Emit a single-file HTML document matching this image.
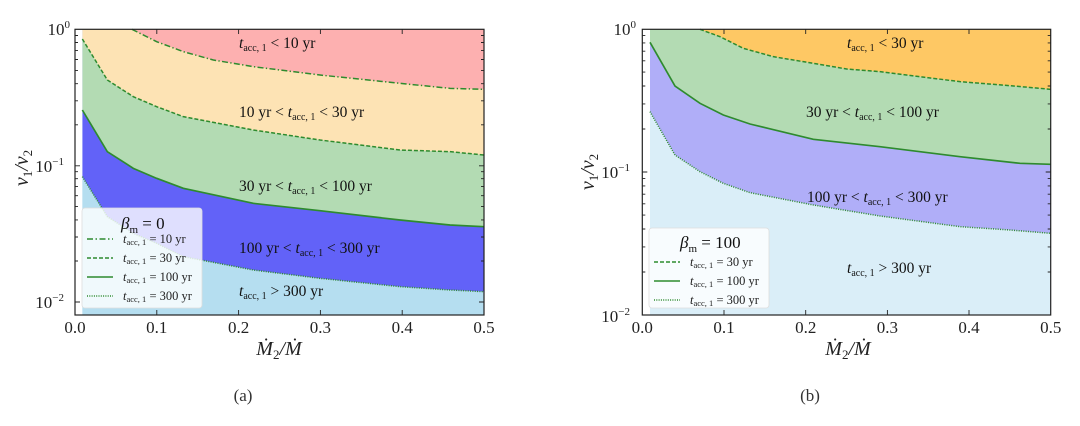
<!DOCTYPE html>
<html><head><meta charset="utf-8"><style>
html,body{margin:0;padding:0;background:#fff;}
svg{display:block;}
text{font-family:"Liberation Serif",serif;}
</style></head><body>
<svg width="1080" height="426" viewBox="0 0 1080 426" xmlns="http://www.w3.org/2000/svg" font-family="Liberation Serif, serif">
<g transform="scale(0.33333)">
 <rect x="225" y="88" width="1227" height="857" fill="#b5def0"/>
 <polygon fill="#6262f8" points="247,530 322,650 400,700 470,730 550,770 760,810 960,835 1200,860 1350,870 1452,875 1452,88 247,88"/>
 <polygon fill="#b3dbb3" points="247,330 322,455 400,505 470,535 550,565 760,610 960,632 1200,660 1350,675 1452,680 1452,88 247,88"/>
 <polygon fill="#fde3b4" points="247,117 322,240 400,290 470,320 550,350 760,390 960,420 1200,450 1350,455 1452,465 1452,88 247,88"/>
 <polygon fill="#fdb0b0" points="396,88 470,125 550,155 640,180 760,200 960,225 1200,250 1350,265 1452,268 1452,88"/>
 <rect x="225" y="88" width="22" height="857" fill="#fff"/>
 <g fill="none" stroke="#2e8b2e" stroke-width="4.5">
  <polyline points="396,88 470,125 550,155 640,180 760,200 960,225 1200,250 1350,265 1452,268" stroke-dasharray="18,7,4,7"/>
  <polyline points="247,117 322,240 400,290 470,320 550,350 760,390 960,420 1200,450 1350,455 1452,465" stroke-dasharray="12,6"/>
  <polyline points="247,330 322,455 400,505 470,535 550,565 760,610 960,632 1200,660 1350,675 1452,680" stroke-width="5"/>
  <polyline points="247,530 322,650 400,700 470,730 550,770 760,810 960,835 1200,860 1350,870 1452,875" stroke-dasharray="3,4"/>
 </g>
</g>
<g transform="translate(560,0) scale(0.33333)">
 <rect x="247" y="88" width="1225" height="857" fill="#daeef8"/>
 <polygon fill="#b0aef8" points="270,335 345,465 420,515 490,550 570,578 760,615 960,648 1200,680 1350,690 1472,700 1472,88 270,88"/>
 <polygon fill="#b3dbb3" points="270,127 345,258 420,310 490,345 570,372 760,418 960,440 1200,470 1380,490 1472,493 1472,88 270,88"/>
 <polygon fill="#fec864" points="420,88 480,110 550,145 640,170 760,190 860,207 960,215 1200,245 1350,257 1472,268 1472,88"/>
 <rect x="247" y="88" width="23" height="857" fill="#fff"/>
 <g fill="none" stroke="#2e8b2e" stroke-width="4.5">
  <polyline points="420,88 480,110 550,145 640,170 760,190 860,207 960,215 1200,245 1350,257 1472,268" stroke-dasharray="12,6"/>
  <polyline points="270,127 345,258 420,310 490,345 570,372 760,418 960,440 1200,470 1380,490 1472,493" stroke-width="5"/>
  <polyline points="270,335 345,465 420,515 490,550 570,578 760,615 960,648 1200,680 1350,690 1472,700" stroke-dasharray="3,4"/>
 </g>
</g>

<rect x="82" y="208" width="120" height="100" rx="3" fill="#fff" fill-opacity="0.8" stroke="#ddd" stroke-width="0.8"/>
<g stroke="#2e8b2e" stroke-width="1.6">
 <line x1="87" y1="239" x2="113" y2="239" stroke-dasharray="6,2.5,1.5,2.5"/>
 <line x1="87" y1="258" x2="113" y2="258" stroke-dasharray="4,2"/>
 <line x1="87" y1="277" x2="113" y2="277"/>
 <line x1="87" y1="296" x2="113" y2="296" stroke-dasharray="1,1.3"/>
</g>
<g font-size="12.5" fill="#222">
 <text x="121" y="229" font-size="17" fill="#111"><tspan font-style="italic">β</tspan><tspan font-size="11" dy="4">m</tspan><tspan dy="-4"> = 0</tspan></text>
 <text x="123" y="243"><tspan font-style="italic">t</tspan><tspan font-size="8.5" dy="2">acc, 1</tspan><tspan dy="-2"> = 10 yr</tspan></text>
 <text x="123" y="262"><tspan font-style="italic">t</tspan><tspan font-size="8.5" dy="2">acc, 1</tspan><tspan dy="-2"> = 30 yr</tspan></text>
 <text x="123" y="281"><tspan font-style="italic">t</tspan><tspan font-size="8.5" dy="2">acc, 1</tspan><tspan dy="-2"> = 100 yr</tspan></text>
 <text x="123" y="300"><tspan font-style="italic">t</tspan><tspan font-size="8.5" dy="2">acc, 1</tspan><tspan dy="-2"> = 300 yr</tspan></text>
</g>
<rect x="649" y="228" width="120" height="80" rx="3" fill="#fff" fill-opacity="0.8" stroke="#ddd" stroke-width="0.8"/>
<g stroke="#2e8b2e" stroke-width="1.6">
 <line x1="654" y1="262" x2="680" y2="262" stroke-dasharray="4,2"/>
 <line x1="654" y1="281" x2="680" y2="281"/>
 <line x1="654" y1="300" x2="680" y2="300" stroke-dasharray="1,1.3"/>
</g>
<g font-size="12.5" fill="#222">
 <text x="680" y="248" font-size="17" fill="#111"><tspan font-style="italic">β</tspan><tspan font-size="11" dy="4">m</tspan><tspan dy="-4"> = 100</tspan></text>
 <text x="690" y="266"><tspan font-style="italic">t</tspan><tspan font-size="8.5" dy="2">acc, 1</tspan><tspan dy="-2"> = 30 yr</tspan></text>
 <text x="690" y="285"><tspan font-style="italic">t</tspan><tspan font-size="8.5" dy="2">acc, 1</tspan><tspan dy="-2"> = 100 yr</tspan></text>
 <text x="690" y="304"><tspan font-style="italic">t</tspan><tspan font-size="8.5" dy="2">acc, 1</tspan><tspan dy="-2"> = 300 yr</tspan></text>
</g>

<g font-size="15.5" fill="#111">
 <text x="239" y="48"><tspan font-style="italic">t</tspan><tspan font-size="10" dy="3">acc, 1</tspan><tspan dy="-3"> &lt; 10 yr</tspan></text>
 <text x="239" y="117">10 yr &lt; <tspan font-style="italic">t</tspan><tspan font-size="10" dy="3">acc, 1</tspan><tspan dy="-3"> &lt; 30 yr</tspan></text>
 <text x="239" y="191">30 yr &lt; <tspan font-style="italic">t</tspan><tspan font-size="10" dy="3">acc, 1</tspan><tspan dy="-3"> &lt; 100 yr</tspan></text>
 <text x="239" y="253">100 yr &lt; <tspan font-style="italic">t</tspan><tspan font-size="10" dy="3">acc, 1</tspan><tspan dy="-3"> &lt; 300 yr</tspan></text>
 <text x="239" y="296"><tspan font-style="italic">t</tspan><tspan font-size="10" dy="3">acc, 1</tspan><tspan dy="-3"> &gt; 300 yr</tspan></text>
 <text x="847" y="48"><tspan font-style="italic">t</tspan><tspan font-size="10" dy="3">acc, 1</tspan><tspan dy="-3"> &lt; 30 yr</tspan></text>
 <text x="806" y="117">30 yr &lt; <tspan font-style="italic">t</tspan><tspan font-size="10" dy="3">acc, 1</tspan><tspan dy="-3"> &lt; 100 yr</tspan></text>
 <text x="807" y="202">100 yr &lt; <tspan font-style="italic">t</tspan><tspan font-size="10" dy="3">acc, 1</tspan><tspan dy="-3"> &lt; 300 yr</tspan></text>
 <text x="847" y="273"><tspan font-style="italic">t</tspan><tspan font-size="10" dy="3">acc, 1</tspan><tspan dy="-3"> &gt; 300 yr</tspan></text>
</g>

<g fill="none" stroke="#222" stroke-width="1.2">
 <rect x="75" y="29.3" width="409" height="285.7"/>
 <rect x="642.3" y="29.3" width="408.4" height="285.7"/>
</g>
<g stroke="#222" stroke-width="0.9">
 <path d="M75 315v-5M156.8 315v-5M238.6 315v-5M320.4 315v-5M402.2 315v-5M484 315v-5M156.8 29v5M238.6 29v5M320.4 29v5M402.2 29v5"/>
 <path d="M75 165.8h5M75 302h5M484 165.8h-5M484 302h-5"/>
 <path d="M75 124.8h3M75 100.8h3M75 83.7h3M75 70.4h3M75 59.5h3M75 50.4h3M75 42.5h3M75 35.5h3M75 261h3M75 237h3M75 219.9h3M75 206.6h3M75 195.7h3M75 186.6h3M75 178.7h3M75 171.7h3M484 124.8h-3M484 100.8h-3M484 83.7h-3M484 70.4h-3M484 59.5h-3M484 50.4h-3M484 42.5h-3M484 35.5h-3M484 261h-3M484 237h-3M484 219.9h-3M484 206.6h-3M484 195.7h-3M484 186.6h-3M484 178.7h-3M484 171.7h-3"/>
 <path d="M724 315v-5M805.7 315v-5M887.4 315v-5M969 315v-5M724 29v5M805.7 29v5M887.4 29v5M969 29v5"/>
 <path d="M642.3 172h5M1050.7 172h-5M642.3 129h3M642.3 103.9h3M642.3 86h3M642.3 72.1h3M642.3 60.8h3M642.3 51.2h3M642.3 42.9h3M642.3 35.6h3M642.3 272h3M642.3 246.9h3M642.3 229h3M642.3 215.1h3M642.3 203.8h3M642.3 194.2h3M642.3 185.9h3M642.3 178.6h3M1050.7 129h-3M1050.7 103.9h-3M1050.7 86h-3M1050.7 72.1h-3M1050.7 60.8h-3M1050.7 51.2h-3M1050.7 42.9h-3M1050.7 35.6h-3M1050.7 272h-3M1050.7 246.9h-3M1050.7 229h-3M1050.7 215.1h-3M1050.7 203.8h-3M1050.7 194.2h-3M1050.7 185.9h-3M1050.7 178.6h-3"/>
</g>

<g font-size="17" fill="#222" text-anchor="middle">
 <text x="75" y="333">0.0</text><text x="156.8" y="333">0.1</text><text x="238.6" y="333">0.2</text><text x="320.4" y="333">0.3</text><text x="402.2" y="333">0.4</text><text x="484" y="333">0.5</text>
 <text x="642.3" y="333">0.0</text><text x="724" y="333">0.1</text><text x="805.7" y="333">0.2</text><text x="887.4" y="333">0.3</text><text x="969" y="333">0.4</text><text x="1050.7" y="333">0.5</text>
</g>
<g font-size="17" fill="#222" text-anchor="end">
 <text x="70" y="35">10<tspan font-size="11" dy="-7">0</tspan></text>
 <text x="64" y="172">10<tspan font-size="11" dy="-7">−1</tspan></text>
 <text x="64" y="308">10<tspan font-size="11" dy="-7">−2</tspan></text>
 <text x="636" y="35">10<tspan font-size="11" dy="-7">0</tspan></text>
 <text x="630" y="178">10<tspan font-size="11" dy="-7">−1</tspan></text>
 <text x="630" y="322">10<tspan font-size="11" dy="-7">−2</tspan></text>
</g>

<g font-size="20" fill="#222" font-style="italic">
 <text transform="translate(28,168) rotate(-90)" text-anchor="middle">v<tspan font-size="13" dy="4" font-style="normal">1</tspan><tspan dy="-4">/v</tspan><tspan font-size="13" dy="4" font-style="normal">2</tspan></text>
 <text transform="translate(594,172) rotate(-90)" text-anchor="middle">v<tspan font-size="13" dy="4" font-style="normal">1</tspan><tspan dy="-4">/v</tspan><tspan font-size="13" dy="4" font-style="normal">2</tspan></text>
 <text x="279" y="355" text-anchor="middle">Ṁ<tspan font-size="13" dy="4" font-style="normal">2</tspan><tspan dy="-4">/Ṁ</tspan></text>
 <text x="848" y="355" text-anchor="middle">Ṁ<tspan font-size="13" dy="4" font-style="normal">2</tspan><tspan dy="-4">/Ṁ</tspan></text>
</g>
<g font-size="17" fill="#333" text-anchor="middle">
 <text x="243" y="401">(a)</text>
 <text x="810" y="401">(b)</text>
</g>
</svg>
</body></html>
